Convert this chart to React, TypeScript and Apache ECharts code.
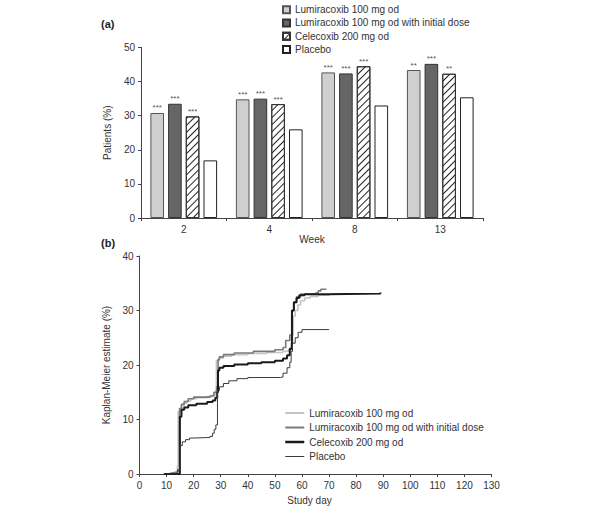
import React, { useEffect, useRef } from "react";
import * as echarts from "echarts";

// ---------- Panel (a) data ----------
const weeks = ["2", "4", "8", "13"];
const lumi = [30.8, 34.8, 42.7, 43.4];
const lumiInit = [33.5, 35.0, 42.4, 45.2];
const cele = [29.8, 33.4, 44.5, 42.3];
const placebo = [16.9, 26.0, 33.0, 35.4];
const sigLumi = ["***", "***", "***", "**"];
const sigLumiInit = ["***", "***", "***", "***"];
const sigCele = ["***", "***", "***", "**"];

// ---------- Panel (b) data: Kaplan-Meier steps [day, %] ----------
const kmLumi = [
  [11, 0.2], [13, 0.4], [14, 1.5], [14.3, 11.4], [15.5, 12.5], [16.5, 13], [17.5, 13.4], [19, 13.8],
  [21, 14], [25, 14.2], [27, 14.5], [28, 15.2], [28.4, 20.8], [29.5, 21.3], [31, 21.6], [34, 21.9],
  [40, 22.1], [47, 22.3], [53, 22.5], [55, 22.8], [56, 24], [56.5, 25.5], [56.8, 29], [57.5, 30],
  [58.5, 31], [59.5, 31.8], [61, 32.3], [63, 32.6], [66, 32.8], [70, 33], [75, 33],
];
const kmLumiInit = [
  [10, 0], [12, 0.2], [14, 0.5], [14.8, 12], [15.5, 12.8], [16.5, 13.3], [18, 13.8], [20, 14.1],
  [26, 14.3], [27.5, 15], [28.5, 16], [29, 21], [29.5, 21.5], [31, 21.9], [35, 22.2], [42, 22.5],
  [50, 22.8], [53, 23.2], [54, 24.5], [55.5, 25.5], [56.3, 30], [57, 31.5], [58, 32.5], [59.5, 33],
  [65, 33.2], [66, 33.6], [67, 33.9], [69, 33.9],
];
const kmCele = [
  [9, 0], [14.5, 0], [14.9, 10.5], [15.5, 11.8], [16.5, 12.2], [18, 12.6], [21, 12.9], [25, 13.2],
  [27, 13.5], [28, 14], [28.7, 15], [29, 19], [29.5, 19.5], [31, 19.8], [35, 20.1], [40, 20.3],
  [45, 20.5], [50, 20.8], [53, 21.2], [54.5, 21.8], [55.5, 23], [56.3, 30], [57, 31.5], [58, 32.3],
  [59, 32.8], [61, 33], [70, 33.1], [89, 33.3],
];
const kmPlacebo = [
  [9, 0], [13.5, 0], [14, 0.8], [15, 5.2], [15.8, 5.9], [17, 6.3], [18.5, 6.6], [20, 6.7], [26, 6.9],
  [27, 7.5], [27.6, 8.2], [28.2, 9], [28.8, 15.3], [29.5, 16], [31, 16.6], [33, 17.1], [36, 17.5],
  [40, 17.7], [52, 17.8], [53, 18.5], [54.5, 19.5], [55.5, 20.5], [56, 22.5], [56.5, 24], [57.5, 25],
  [58.6, 26], [60, 26.5], [70, 26.6],
];

const barNames = [
  "Lumiracoxib 100 mg od",
  "Lumiracoxib 100 mg od with initial dose",
  "Celecoxib 200 mg od",
  "Placebo",
];
// trailing space keeps the line legend separate from the bar legend
const lineNames = barNames.map((n) => n + " ");
const lineColors = ["#c4c4c4", "#7a7a7a", "#1a1a1a", "#3a3a3a"];
const lineWidths = [1.6, 1.6, 2, 1];
const legendLineWidths = [2, 2, 2.5, 1];

const FONT = "Liberation Sans, Arial, Helvetica, sans-serif";
const TXT = "#333";
const AX = "#444";
const FS = 10;

export default function App() {
  const ref = useRef<HTMLDivElement>(null);
  useEffect(() => {
    if (!ref.current) return;
    const chart = echarts.init(ref.current, null, { renderer: "svg" });

    const axisCommon = {
      axisLine: { show: true, lineStyle: { color: AX, width: 1 } },
      axisTick: { show: true, length: 3, lineStyle: { color: AX } },
      axisLabel: { color: TXT, fontSize: FS, fontFamily: FONT, margin: 6 },
      splitLine: { show: false },
      nameTextStyle: { color: TXT, fontSize: FS, fontFamily: FONT },
    };

    const barLabel = (sig: string[] | null) =>
      sig
        ? {
            show: true,
            position: "top",
            distance: 1,
            fontSize: 8,
            color: "#555",
            fontFamily: FONT,
            formatter: (p: any) => sig[p.dataIndex],
          }
        : { show: false };

    const kmSeries = [kmLumi, kmLumiInit, kmCele, kmPlacebo].map((d, i) => ({
      type: "line",
      name: lineNames[i],
      xAxisIndex: 1,
      yAxisIndex: 1,
      step: "end",
      symbol: "none",
      data: d,
      color: lineColors[i],
      lineStyle: { color: lineColors[i], width: lineWidths[i] },
      z: 3 + i,
    }));

    const option: any = {
      animation: false,
      textStyle: { fontFamily: FONT },
      grid: [
        { left: 141, top: 47.5, width: 342, height: 170.5 },
        { left: 139.5, top: 256, width: 352, height: 218 },
      ],
      legend: [
        {
          data: barNames,
          orient: "vertical",
          left: 277,
          top: -1,
          icon: "rect",
          itemWidth: 7,
          itemHeight: 7,
          itemGap: 2,
          textStyle: { color: TXT, fontSize: FS, fontFamily: FONT, lineHeight: 11.3 },
          selectedMode: false,
        },
        {
          data: lineNames.map((n, i) => ({ name: n, lineStyle: { width: legendLineWidths[i] } })),
          orient: "vertical",
          left: 279,
          top: 402.5,
          itemWidth: 19,
          itemHeight: 10,
          itemGap: 3.5,
          itemStyle: { opacity: 0 },
          textStyle: { color: TXT, fontSize: FS, fontFamily: FONT, lineHeight: 11 },
          selectedMode: false,
        },
      ],
      xAxis: [
        {
          ...axisCommon,
          gridIndex: 0,
          type: "category",
          data: weeks,
          name: "Week",
          nameLocation: "middle",
          nameGap: 14,
        },
        {
          ...axisCommon,
          gridIndex: 1,
          type: "value",
          min: 0,
          max: 130,
          interval: 10,
          name: "Study day",
          nameLocation: "middle",
          nameGap: 21,
          nameTextStyle: { ...axisCommon.nameTextStyle, padding: [0, 12, 0, 0] },
        },
      ],
      yAxis: [
        {
          ...axisCommon,
          gridIndex: 0,
          type: "value",
          min: 0,
          max: 50,
          interval: 10,
          name: "Patients (%)",
          nameLocation: "middle",
          nameGap: 26,
        },
        {
          ...axisCommon,
          gridIndex: 1,
          type: "value",
          min: 0,
          max: 40,
          interval: 10,
          name: "Kaplan-Meier estimate (%)",
          nameLocation: "middle",
          nameGap: 26,
        },
      ],
      series: [
        {
          type: "bar",
          name: barNames[0],
          xAxisIndex: 0,
          yAxisIndex: 0,
          data: lumi,
          barGap: "30%",
          barCategoryGap: "22%",
          itemStyle: { color: "#cfcfcf", borderColor: "#555", borderWidth: 1 },
          label: barLabel(sigLumi),
        },
        {
          type: "bar",
          name: barNames[1],
          xAxisIndex: 0,
          yAxisIndex: 0,
          data: lumiInit,
          itemStyle: { color: "#666666", borderColor: "#333", borderWidth: 1 },
          label: barLabel(sigLumiInit),
        },
        {
          type: "bar",
          name: barNames[2],
          xAxisIndex: 0,
          yAxisIndex: 0,
          data: cele,
          itemStyle: {
            color: "#ffffff",
            borderColor: "#333",
            borderWidth: 1,
            decal: {
              symbol: "rect",
              symbolSize: 1,
              color: "#222",
              dashArrayX: [1, 0],
              dashArrayY: [1, 4],
              rotation: -Math.PI / 4,
            },
          },
          label: barLabel(sigCele),
        },
        {
          type: "bar",
          name: barNames[3],
          xAxisIndex: 0,
          yAxisIndex: 0,
          data: placebo,
          itemStyle: { color: "#ffffff", borderColor: "#222", borderWidth: 1 },
          label: barLabel(null),
        },
        ...kmSeries,
      ],
      graphic: [
        {
          type: "text",
          left: 101,
          top: 18,
          style: { text: "(a)", fontSize: 11, fontWeight: "bold", fill: "#222", fontFamily: FONT },
        },
        {
          type: "text",
          left: 101,
          top: 237,
          style: { text: "(b)", fontSize: 11, fontWeight: "bold", fill: "#222", fontFamily: FONT },
        },
      ],
    };

    chart.setOption(option);
    return () => chart.dispose();
  }, []);

  return (
    <div
      ref={ref}
      style={{ position: "fixed", left: 0, top: 0, width: 600, height: 509, background: "#fff" }}
    />
  );
}
